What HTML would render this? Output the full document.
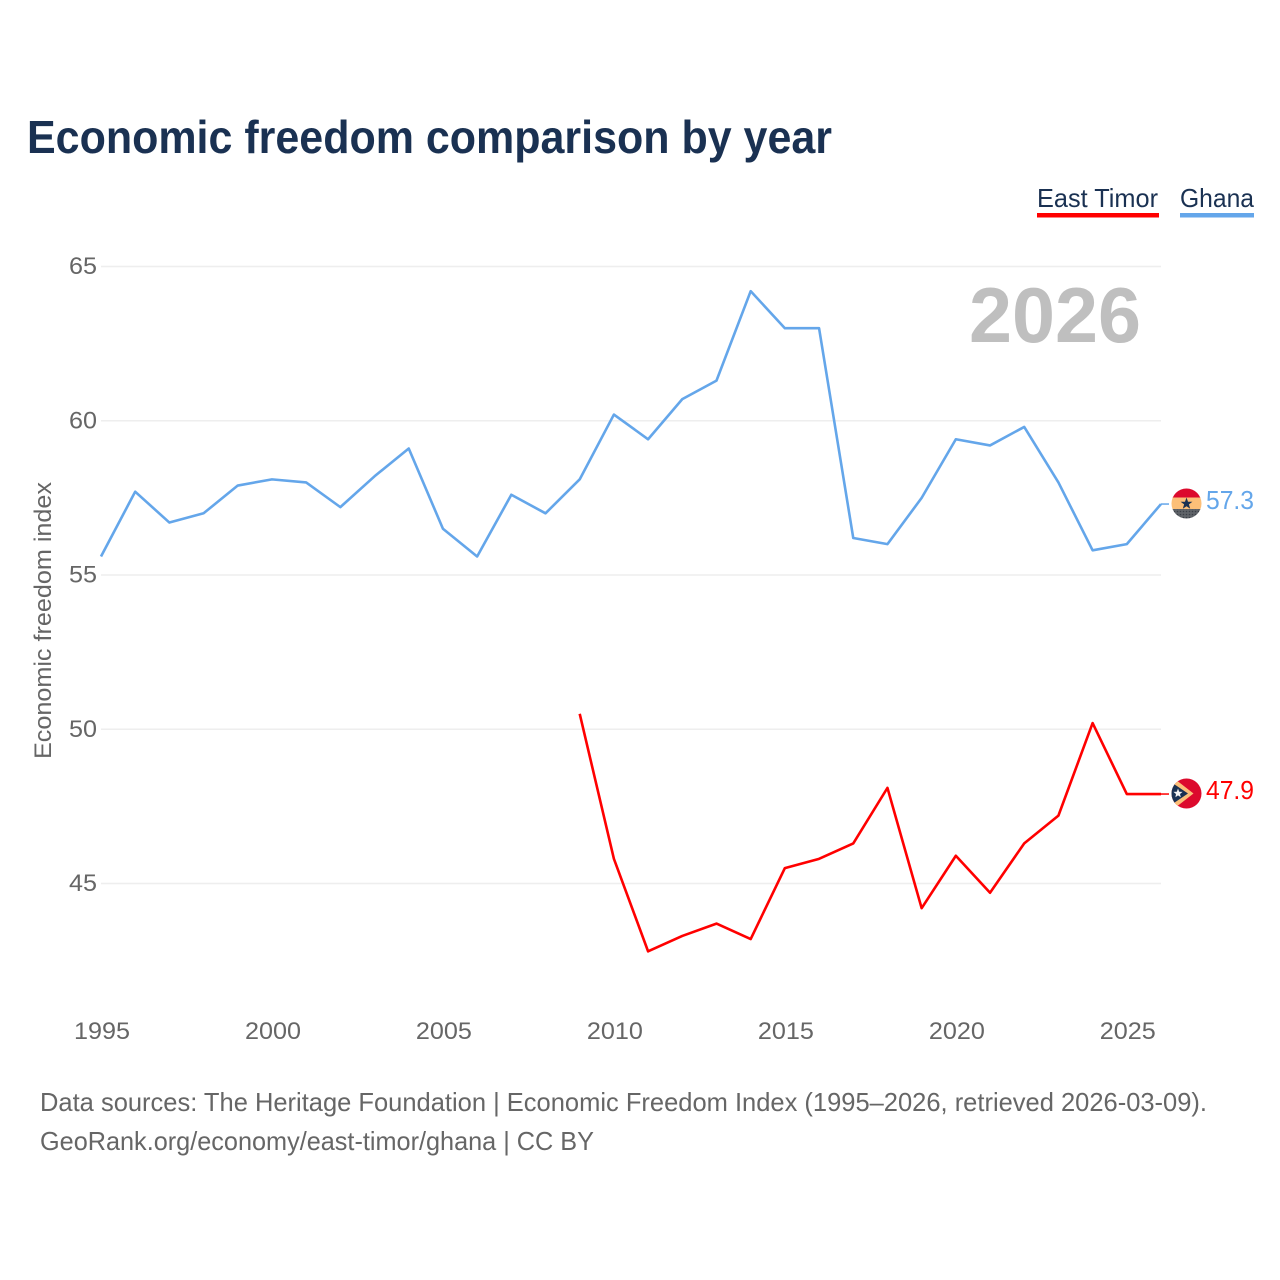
<!DOCTYPE html>
<html lang="en">
<head>
<meta charset="utf-8">
<title>Economic freedom comparison by year</title>
<style>
html,body{margin:0;padding:0;background:#fff}
svg{display:block}
text{font-family:"Liberation Sans",sans-serif}
</style>
</head>
<body>
<svg id="chart" xmlns="http://www.w3.org/2000/svg" width="1280" height="1280" viewBox="0 0 1280 1280">
  <defs>
    <clipPath id="ghana-clip"><circle cx="1186.5" cy="503.5" r="15"/></clipPath>
    <clipPath id="timor-clip"><circle cx="1186.5" cy="793.5" r="15"/></clipPath>
    <pattern id="ghana-dots" width="3" height="3" patternUnits="userSpaceOnUse"><rect width="3" height="3" fill="#5f6368"/><circle cx="1.5" cy="1.5" r="0.8" fill="#3a3f47"/></pattern>
  </defs>
  <rect width="1280" height="1280" fill="#fff"/>
  <text x="27" y="153" font-size="46" font-weight="700" fill="#1a3152" textLength="805" lengthAdjust="spacingAndGlyphs">Economic freedom comparison by year</text>

  <g>
    <text x="1037" y="207" font-size="26" fill="#1a3152" textLength="121" lengthAdjust="spacingAndGlyphs">East Timor</text>
    <rect x="1037" y="213" width="122" height="4.5" fill="#ff0000"/>
  </g>
  <g>
    <text x="1180" y="207" font-size="26" fill="#1a3152" textLength="74" lengthAdjust="spacingAndGlyphs">Ghana</text>
    <rect x="1180" y="213" width="74" height="4.5" fill="#64a6ea"/>
  </g>

  <g id="grid"></g>
  <g id="y-ticks"></g>
  <g id="x-ticks"></g>

  <text x="969" y="342" font-size="78" font-weight="700" fill="#bfbfbf" textLength="172" lengthAdjust="spacingAndGlyphs">2026</text>
  <text transform="translate(51,759) rotate(-90)" x="0" y="0" font-size="24" fill="#666666" textLength="277" lengthAdjust="spacingAndGlyphs">Economic freedom index</text>

  <path id="line-ghana" fill="none" stroke="#64a6ea" stroke-width="2.6" stroke-linejoin="round"/>
  <path id="line-timor" fill="none" stroke="#ff0000" stroke-width="2.6" stroke-linejoin="round"/>
  <line id="conn-ghana" stroke="#64a6ea" stroke-width="1.5"/>
  <line id="conn-timor" stroke="#ff0000" stroke-width="1.5"/>

  <g id="flag-ghana">
    <g clip-path="url(#ghana-clip)">
      <rect x="1171" y="488" width="31" height="10" fill="#dc0a2d"/>
      <rect x="1171" y="497.5" width="31" height="12" fill="#fcbf78"/>
      <rect x="1171" y="509" width="31" height="10" fill="url(#ghana-dots)"/>
    </g>
    <polygon points="1186.5,497.5 1188,501.7 1192.4,501.7 1188.9,504.4 1190.2,508.8 1186.5,506.2 1182.8,508.8 1184.1,504.4 1180.6,501.7 1185,501.7" fill="#1a3152"/>
  </g>
  <g id="flag-timor">
    <g clip-path="url(#timor-clip)">
      <rect x="1171" y="778" width="31" height="31" fill="#dc0a2d"/>
      <polygon points="1171,776 1193.5,793.5 1171,811" fill="#fcbf78"/>
      <polygon points="1171,782 1188,793.5 1171,805" fill="#1a3152"/>
    </g>
    <polygon points="1178,788.5 1179.2,791.7 1182.6,791.9 1180,794 1180.8,797.2 1178,795.4 1175.4,797.2 1176,794 1173.4,791.9 1176.8,791.7" fill="#f2f2f2"/>
  </g>

  <text id="value-ghana" x="1206" y="509" font-size="26" fill="#64a6ea" textLength="48" lengthAdjust="spacingAndGlyphs"></text>
  <text id="value-timor" x="1206" y="799" font-size="26" fill="#ff0000" textLength="48" lengthAdjust="spacingAndGlyphs"></text>

  <text x="40" y="1111" font-size="26" fill="#666666" textLength="1167" lengthAdjust="spacingAndGlyphs">Data sources: The Heritage Foundation | Economic Freedom Index (1995–2026, retrieved 2026-03-09).</text>
  <a><text x="40" y="1150" font-size="26" fill="#666666" textLength="554" lengthAdjust="spacingAndGlyphs">GeoRank.org/economy/east-timor/ghana | CC BY</text></a>
</svg>
<script>
const yearsGhana = [1995,1996,1997,1998,1999,2000,2001,2002,2003,2004,2005,2006,2007,2008,2009,2010,2011,2012,2013,2014,2015,2016,2017,2018,2019,2020,2021,2022,2023,2024,2025,2026];
const valuesGhana = [55.6,57.7,56.7,57.0,57.9,58.1,58.0,57.2,58.2,59.1,56.5,55.6,57.6,57.0,58.1,60.2,59.4,60.7,61.3,64.2,63.0,63.0,56.2,56.0,57.5,59.4,59.2,59.8,58.0,55.8,56.0,57.3];
const yearsTimor = [2009,2010,2011,2012,2013,2014,2015,2016,2017,2018,2019,2020,2021,2022,2023,2024,2025,2026];
const valuesTimor = [50.5,45.8,42.8,43.3,43.7,43.2,45.5,45.8,46.3,48.1,44.2,45.9,44.7,46.3,47.2,50.2,47.9,47.9];
const yTickValues = [45,50,55,60,65];
const xTickValues = [1995,2000,2005,2010,2015,2020,2025];

const NS = 'http://www.w3.org/2000/svg';
function xScale(year){ return 101 + (year - 1995) * (1161 - 101) / 31; }
function yScale(v){ return 883.5 - (v - 45) * (883.5 - 266.5) / 20; }
function linePath(xs, ys){
  return xs.map(function(x, i){ return (i ? 'L' : 'M') + xScale(x).toFixed(2) + ' ' + yScale(ys[i]).toFixed(2); }).join(' ');
}

const grid = document.getElementById('grid');
const yTicks = document.getElementById('y-ticks');
yTickValues.forEach(function(v){
  const l = document.createElementNS(NS, 'line');
  
  
  l.setAttribute('x1', 101);
  l.setAttribute('x2', 1161);
  l.setAttribute('y1', yScale(v));
  l.setAttribute('y2', yScale(v));
  l.setAttribute('stroke', '#eeeeee');
  l.setAttribute('stroke-width', 1.5);
  grid.appendChild(l);
  const t = document.createElementNS(NS, 'text');
  
  
  t.setAttribute('x', 69);
  t.setAttribute('y', yScale(v) + 7.5);
  t.setAttribute('font-size', 24);
  t.setAttribute('fill', '#666666');
  t.setAttribute('textLength', 28);
  t.setAttribute('lengthAdjust', 'spacingAndGlyphs');
  t.textContent = v;
  yTicks.appendChild(t);
});

const xTicks = document.getElementById('x-ticks');
xTickValues.forEach(function(y){
  const t = document.createElementNS(NS, 'text');
  
  
  t.setAttribute('x', xScale(y) - 27);
  t.setAttribute('y', 1039);
  t.setAttribute('font-size', 24);
  t.setAttribute('fill', '#666666');
  t.setAttribute('textLength', 56);
  t.setAttribute('lengthAdjust', 'spacingAndGlyphs');
  t.textContent = y;
  xTicks.appendChild(t);
});

document.getElementById('line-ghana').setAttribute('d', linePath(yearsGhana, valuesGhana));
document.getElementById('line-timor').setAttribute('d', linePath(yearsTimor, valuesTimor));

function connector(id, v){
  const c = document.getElementById(id);
  c.setAttribute('x1', xScale(2026));
  c.setAttribute('x2', 1169);
  c.setAttribute('y1', yScale(v));
  c.setAttribute('y2', yScale(v));
}
const lastGhana = valuesGhana[valuesGhana.length - 1];
const lastTimor = valuesTimor[valuesTimor.length - 1];
connector('conn-ghana', lastGhana);
connector('conn-timor', lastTimor);
document.getElementById('value-ghana').textContent = lastGhana.toFixed(1);
document.getElementById('value-timor').textContent = lastTimor.toFixed(1);
</script>
</body>
</html>
